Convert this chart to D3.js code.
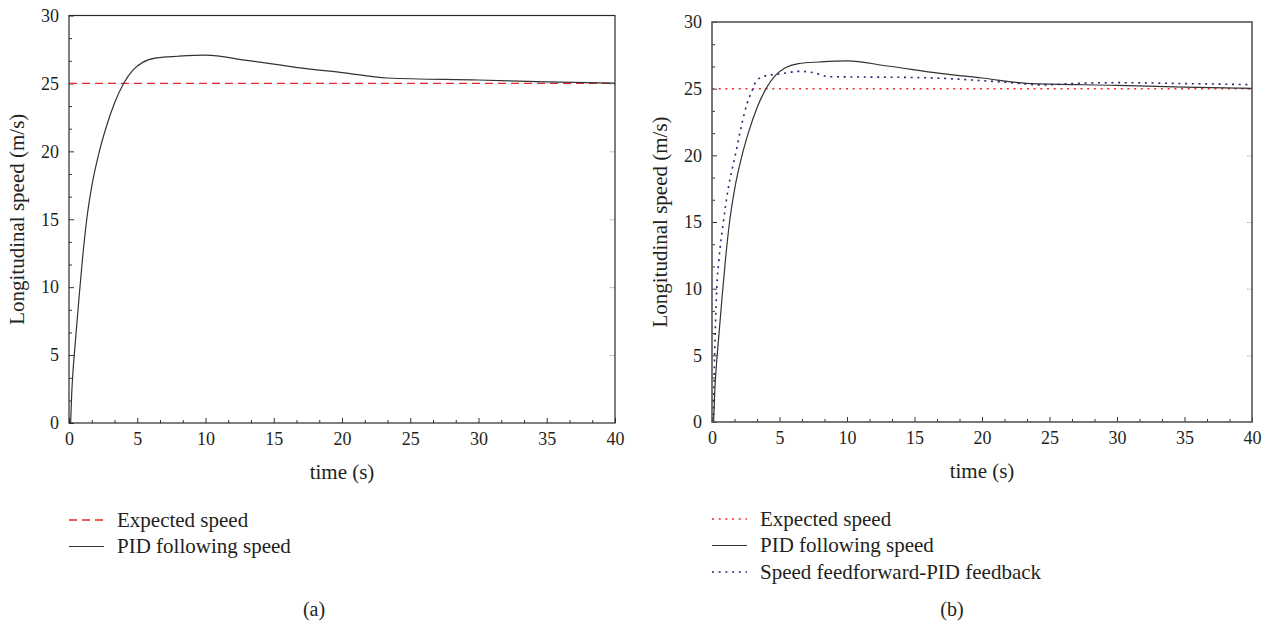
<!DOCTYPE html>
<html>
<head>
<meta charset="utf-8">
<script src="https://cdn.jsdelivr.net/npm/d3@7"></script>
<style>
  html, body { margin: 0; padding: 0; background: #fff; }
  svg { display: block; }
  text { font-family: "Liberation Serif", "Times New Roman", serif; fill: #231f20; }
</style>
</head>
<body>
<svg id="chart" width="1271" height="624"></svg>
<script>
// ---- data ----
const timeTicks = [0, 5, 10, 15, 20, 25, 30, 35, 40];
const speedTicks = [0, 5, 10, 15, 20, 25, 30];

const expectedTime = [0, 40];
const expectedSpeed = [25, 25];

const pidTime  = [0.12, 0.2, 0.3, 0.4, 0.55, 0.75, 1.0, 1.3, 1.7, 2.2, 2.7, 3.35, 4.0, 4.7, 5.4, 6.4, 8.0, 10.0, 13.0, 16.9, 20.0, 23.3, 30, 35, 40];
const pidSpeed = [0, 2.2, 3.9, 5.2, 7.0, 9.4, 12.2, 15.0, 17.6, 19.9, 21.7, 23.6, 25.0, 26.0, 26.55, 26.88, 27.0, 27.08, 26.7, 26.15, 25.8, 25.4, 25.25, 25.12, 25.02];

const ffTime  = [0.1, 0.15, 0.25, 0.35, 0.5, 0.84, 1.2, 1.7, 2.2, 2.6, 2.95, 3.3, 3.9, 5.0, 6.5, 7.5, 8.7, 10, 13, 16.5, 20, 22.1, 24.5, 27, 30, 35, 40];
const ffSpeed = [0, 3, 7, 10, 12, 15, 17.5, 19.9, 22.3, 23.9, 24.8, 25.6, 25.95, 26.1, 26.3, 26.2, 25.9, 25.88, 25.86, 25.8, 25.6, 25.45, 25.28, 25.4, 25.45, 25.38, 25.3];

const legendA = ["Expected speed", "PID following speed"];
const legendB = ["Expected speed", "PID following speed", "Speed feedforward-PID feedback"];
const panelTags = ["(a)", "(b)"];

const zip = (xs, ys) => xs.map((x, i) => ({ t: x, v: ys[i] }));

const svg = d3.select("#chart");

function drawPanel(cfg) {
  const { left, top, right, bottom, frameColor, frameWidth, series, legend, legendX, legendY0, tag, tagX, id } = cfg;
  const x = d3.scaleLinear().domain([0, 40]).range([left, right]);
  const y = d3.scaleLinear().domain([0, 30]).range([bottom, top]);
  const g = svg.append("g");

  g.append("clipPath").attr("id", "clip" + id)
    .append("rect").attr("x", left).attr("y", top - 1)
    .attr("width", right - left).attr("height", bottom - top + 1);

  // minor ticks every 5/3 units
  const minorX = d3.range(0, 40.001, 5 / 3).filter(v => Math.abs(v / 5 - Math.round(v / 5)) > 1e-6);
  const minorY = d3.range(0, 30.001, 5 / 3).filter(v => Math.abs(v / 5 - Math.round(v / 5)) > 1e-6);

  // bottom axis
  const xAxis = d3.axisBottom(x).tickValues(timeTicks).tickSize(-5).tickPadding(12).tickFormat(d3.format("d"));
  const gx = g.append("g").attr("transform", `translate(0,${bottom})`).call(xAxis);
  gx.select(".domain").remove();
  gx.selectAll(".tick line").attr("stroke", "#333").attr("stroke-width", 1);
  gx.selectAll(".tick text").attr("font-size", 18).attr("dy", "0.55em");
  g.append("g").attr("transform", `translate(0,${bottom})`)
    .call(d3.axisBottom(x).tickValues(minorX).tickSize(-3).tickFormat(""))
    .call(s => { s.select(".domain").remove(); s.selectAll("line").attr("stroke", "#333"); });

  // left axis
  const yAxis = d3.axisLeft(y).tickValues(speedTicks).tickSize(-5).tickPadding(10).tickFormat(d3.format("d"));
  const gy = g.append("g").attr("transform", `translate(${left},0)`).call(yAxis);
  gy.select(".domain").remove();
  gy.selectAll(".tick line").attr("stroke", "#333").attr("stroke-width", 1);
  gy.selectAll(".tick text").attr("font-size", 18);
  g.append("g").attr("transform", `translate(${left},0)`)
    .call(d3.axisLeft(y).tickValues(minorY).tickSize(-3).tickFormat(""))
    .call(s => { s.select(".domain").remove(); s.selectAll("line").attr("stroke", "#333"); });

  // faint ticks on the right edge
  g.append("g").attr("transform", `translate(${right},0)`)
    .call(d3.axisRight(y).tickValues(speedTicks.slice(1, -1)).tickSize(-5).tickFormat(""))
    .call(s => { s.select(".domain").remove(); s.selectAll("line").attr("stroke", "#aaa").attr("stroke-dasharray", "2,1"); });

  // series
  const line = d3.line().x(d => x(d.t)).y(d => y(d.v)).curve(d3.curveMonotoneX);
  const plot = g.append("g").attr("clip-path", `url(#clip${id})`);
  series.forEach(s => {
    plot.append("path").datum(s.data)
      .attr("fill", "none")
      .attr("stroke", s.color)
      .attr("stroke-width", s.width)
      .attr("stroke-dasharray", s.dash || null)
      .attr("d", line);
  });

  // frame
  g.append("rect").attr("x", left).attr("y", top)
    .attr("width", right - left).attr("height", bottom - top)
    .attr("fill", "none").attr("stroke", frameColor).attr("stroke-width", frameWidth);

  // axis titles
  g.append("text").attr("x", (left + right) / 2).attr("y", bottom + 56)
    .attr("text-anchor", "middle").attr("font-size", 21).text("time (s)");
  g.append("text")
    .attr("transform", `translate(${left - 45},${(top + bottom) / 2}) rotate(-90)`)
    .attr("text-anchor", "middle").attr("font-size", 21).text("Longitudinal speed (m/s)");

  // legend
  legend.forEach((label, i) => {
    const s = series[i];
    const ly = legendY0 + i * 26.5;
    g.append("line").attr("x1", legendX).attr("x2", legendX + 35)
      .attr("y1", ly).attr("y2", ly)
      .attr("stroke", s.color).attr("stroke-width", s.width)
      .attr("stroke-dasharray", s.dash || null);
    g.append("text").attr("x", legendX + 48).attr("y", ly).attr("dy", "0.32em")
      .attr("font-size", 21).text(label);
  });

  g.append("text").attr("x", tagX).attr("y", 616)
    .attr("text-anchor", "middle").attr("font-size", 20).text(tag);
}

drawPanel({
  id: "a", left: 69, top: 15.5, right: 615, bottom: 423,
  frameColor: "#2a2a2a", frameWidth: 1.2,
  series: [
    { data: zip(expectedTime, expectedSpeed), color: "#e3262b", width: 1.4, dash: "8,5" },
    { data: zip(pidTime, pidSpeed), color: "#333", width: 1.2 }
  ],
  legend: legendA, legendX: 69, legendY0: 520,
  tag: panelTags[0], tagX: 314
});

drawPanel({
  id: "b", left: 712, top: 22, right: 1252, bottom: 422,
  frameColor: "#555", frameWidth: 1.6,
  series: [
    { data: zip(expectedTime, expectedSpeed), color: "#f0282d", width: 1.5, dash: "2,4.7" },
    { data: zip(pidTime, pidSpeed), color: "#333", width: 1.2 },
    { data: zip(ffTime, ffSpeed), color: "#1f2a6e", width: 1.6, dash: "2,4.7" }
  ],
  legend: legendB, legendX: 712, legendY0: 519,
  tag: panelTags[1], tagX: 952
});
</script>
</body>
</html>
